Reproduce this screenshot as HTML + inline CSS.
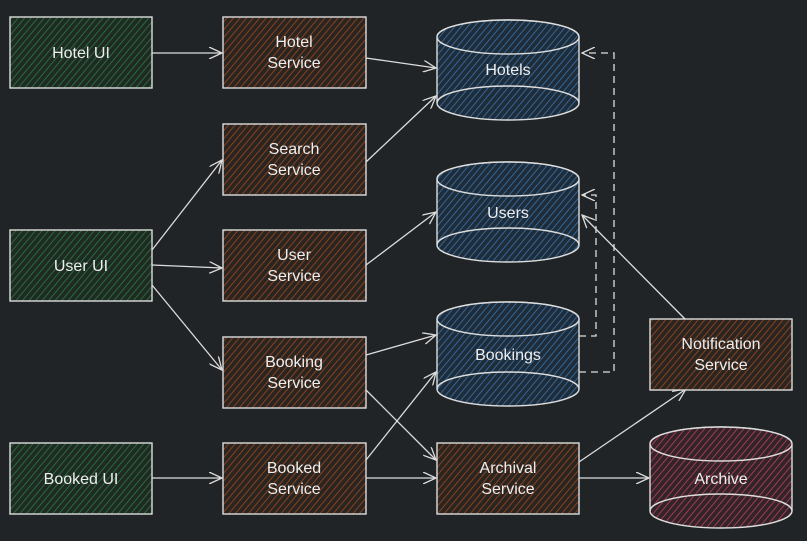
<!DOCTYPE html><html><head><style>body{margin:0;background:#212427}svg{display:block}text{font-family:"Liberation Sans",sans-serif;font-size:16px;fill:#eee;text-anchor:middle}</style></head><body>
<svg width="807" height="541" viewBox="0 0 807 541">
<defs>
<pattern id="g" width="5" height="5" patternUnits="userSpaceOnUse" patternTransform="rotate(40)"><rect width="5" height="5" fill="#1f2a24"/><line x1="0" y1="0" x2="0" y2="5" stroke="#2b7a3c" stroke-width="1.6"/></pattern>
<pattern id="b" width="5" height="5" patternUnits="userSpaceOnUse" patternTransform="rotate(40)"><rect width="5" height="5" fill="#2b2522"/><line x1="0" y1="0" x2="0" y2="5" stroke="#9a4a1e" stroke-width="1.6"/></pattern>
<pattern id="u" width="5" height="5" patternUnits="userSpaceOnUse" patternTransform="rotate(40)"><rect width="5" height="5" fill="#1f2c3a"/><line x1="0" y1="0" x2="0" y2="5" stroke="#3a74aa" stroke-width="1.6"/></pattern>
<pattern id="r" width="5" height="5" patternUnits="userSpaceOnUse" patternTransform="rotate(40)"><rect width="5" height="5" fill="#33232a"/><line x1="0" y1="0" x2="0" y2="5" stroke="#b84556" stroke-width="1.6"/></pattern>
<marker id="a" markerWidth="14" markerHeight="12" refX="13" refY="6" orient="auto" markerUnits="userSpaceOnUse"><path d="M0,0 L13,6 L0,12" fill="none" stroke="#ddd" stroke-width="1.3"/></marker>
</defs>
<g stroke="#ddd" stroke-width="1.3" fill="none" marker-end="url(#a)">
<line x1="152" y1="53" x2="222" y2="53"/>
<line x1="366" y1="58" x2="436" y2="68"/>
<line x1="366" y1="162" x2="436" y2="96"/>
<line x1="152" y1="250" x2="222" y2="160"/>
<line x1="152" y1="265" x2="222" y2="268"/>
<line x1="152" y1="285" x2="222" y2="370"/>
<line x1="366" y1="265" x2="436" y2="212"/>
<line x1="366" y1="355" x2="436" y2="335"/>
<line x1="366" y1="390" x2="436" y2="460"/>
<line x1="152" y1="478" x2="222" y2="478"/>
<line x1="366" y1="460" x2="436" y2="372"/>
<line x1="366" y1="478" x2="436" y2="478"/>
<line x1="579" y1="462" x2="686" y2="389"/>
<line x1="579" y1="478" x2="649" y2="478"/>
<line x1="685" y1="319" x2="582" y2="215"/>
<polyline stroke-dasharray="7,5" points="579,336 596,336 596,195 582,195"/>
<polyline stroke-dasharray="7,5" points="579,372 614,372 614,53 582,53"/>
</g>
<g stroke="#ddd" stroke-width="1.4">
<rect x="10" y="17" width="142" height="71" fill="url(#g)"/>
<rect x="10" y="230" width="142" height="71" fill="url(#g)"/>
<rect x="10" y="443" width="142" height="71" fill="url(#g)"/>
<rect x="223" y="17" width="143" height="71" fill="url(#b)"/>
<rect x="223" y="124" width="143" height="71" fill="url(#b)"/>
<rect x="223" y="230" width="143" height="71" fill="url(#b)"/>
<rect x="223" y="337" width="143" height="71" fill="url(#b)"/>
<rect x="223" y="443" width="143" height="71" fill="url(#b)"/>
<rect x="437" y="443" width="142" height="71" fill="url(#b)"/>
<rect x="650" y="319" width="142" height="71" fill="url(#b)"/>
</g>
<g stroke="#ddd" stroke-width="1.4">
<g fill="url(#u)"><path d="M437,37 A71,17 0 0 1 579,37 V103 A71,17 0 0 1 437,103 Z"/><ellipse cx="508" cy="37" rx="71" ry="17"/><path d="M437,103 A71,17 0 0 1 579,103" fill="none"/></g>
<g fill="url(#u)"><path d="M437,179 A71,17 0 0 1 579,179 V245 A71,17 0 0 1 437,245 Z"/><ellipse cx="508" cy="179" rx="71" ry="17"/><path d="M437,245 A71,17 0 0 1 579,245" fill="none"/></g>
<g fill="url(#u)"><path d="M437,319 A71,17 0 0 1 579,319 V389 A71,17 0 0 1 437,389 Z"/><ellipse cx="508" cy="319" rx="71" ry="17"/><path d="M437,389 A71,17 0 0 1 579,389" fill="none"/></g>
<g fill="url(#r)"><path d="M650,444 A71,17 0 0 1 792,444 V511 A71,17 0 0 1 650,511 Z"/><ellipse cx="721" cy="444" rx="71" ry="17"/><path d="M650,511 A71,17 0 0 1 792,511" fill="none"/></g>
</g>
<text x="81" y="58">Hotel UI</text>
<text x="81" y="271">User UI</text>
<text x="81" y="484">Booked UI</text>
<text x="294" y="47">Hotel</text><text x="294" y="68">Service</text>
<text x="294" y="154">Search</text><text x="294" y="175">Service</text>
<text x="294" y="260">User</text><text x="294" y="281">Service</text>
<text x="294" y="367">Booking</text><text x="294" y="388">Service</text>
<text x="294" y="473">Booked</text><text x="294" y="494">Service</text>
<text x="508" y="473">Archival</text><text x="508" y="494">Service</text>
<text x="721" y="349">Notification</text><text x="721" y="370">Service</text>
<text x="508" y="75">Hotels</text>
<text x="508" y="218">Users</text>
<text x="508" y="360">Bookings</text>
<text x="721" y="484">Archive</text>
</svg></body></html>
